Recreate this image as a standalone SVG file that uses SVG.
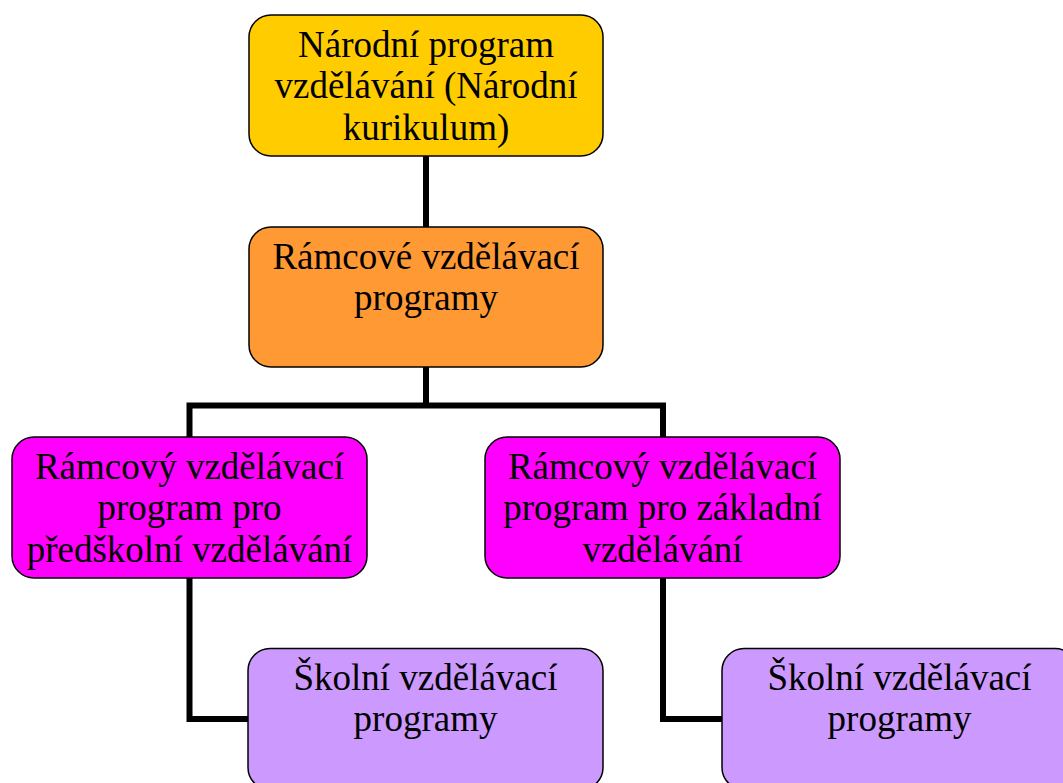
<svg xmlns="http://www.w3.org/2000/svg" width="1063" height="783" viewBox="0 0 1063 783">
<style>
.box{stroke:#000;stroke-width:1.5}
.t{font-family:"Liberation Serif","Times New Roman",serif;font-size:37px;fill:#000;text-anchor:middle}
.c{fill:none;stroke:#000;stroke-width:6;stroke-linejoin:miter}
</style>
<rect width="1063" height="783" fill="#fff"/>
<g id="connectors">
<path class="c" d="M426,156V227"/>
<path class="c" d="M426,367V405.5"/>
<path class="c" d="M189.5,437V405.5H663V437"/>
<path class="c" d="M189.5,578V719H248"/>
<path class="c" d="M663,578V719H722"/>
</g>
<g id="n1">
<rect class="box" x="249" y="15" width="354" height="141" rx="22" fill="#FFCC00"/>
<text class="t" x="426" y="57">Národní program</text>
<text class="t" x="426" y="98">vzdělávání (Národní</text>
<text class="t" x="426" y="139.5">kurikulum)</text>
</g>
<g id="n2">
<rect class="box" x="249" y="227" width="354" height="140" rx="22" fill="#FF9933"/>
<text class="t" x="426" y="268.5">Rámcové vzdělávací</text>
<text class="t" x="426" y="310">programy</text>
</g>
<g id="n3">
<rect class="box" x="12" y="437" width="355" height="141" rx="22" fill="#FF00FF"/>
<text class="t" x="189.5" y="478.5">Rámcový vzdělávací</text>
<text class="t" x="189.5" y="520">program pro</text>
<text class="t" x="189.5" y="562">předškolní vzdělávání</text>
</g>
<g id="n4">
<rect class="box" x="485" y="437" width="355" height="141" rx="22" fill="#FF00FF"/>
<text class="t" x="662.5" y="478.5">Rámcový vzdělávací</text>
<text class="t" x="662.5" y="520">program pro základní</text>
<text class="t" x="662.5" y="562">vzdělávání</text>
</g>
<g id="n5">
<rect class="box" x="248" y="648.5" width="355" height="141" rx="22" fill="#CC99FF"/>
<text class="t" x="425.5" y="690">Školní vzdělávací</text>
<text class="t" x="425.5" y="731">programy</text>
</g>
<g id="n6">
<rect class="box" x="722" y="648.5" width="355" height="141" rx="22" fill="#CC99FF"/>
<text class="t" x="899.5" y="690">Školní vzdělávací</text>
<text class="t" x="899.5" y="731">programy</text>
</g>
</svg>
